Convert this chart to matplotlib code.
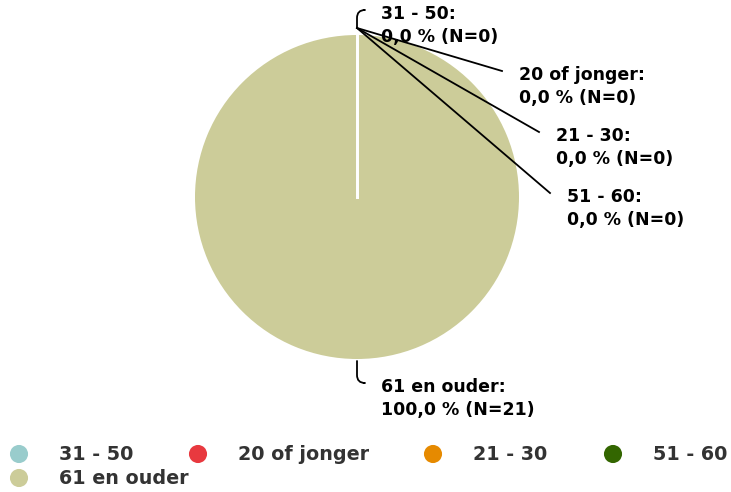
import numpy as np
import matplotlib.pyplot as plt
from matplotlib.patches import FancyArrowPatch

categories = ['31 - 50', '20 of jonger', '21 - 30', '51 - 60', '61 en ouder']
counts = [0, 0, 0, 0, 21]
colors = ['#99CCCC', '#E8393F', '#E68A00', '#336600', '#CCCC99']

# label layout in pixels from the top-left corner of the picture
label_pos = [(381, 13), (519, 74), (556, 135), (567, 196), (381, 386)]
label_bent = [True, False, False, False, True]
anchor_gap = [7, 7, 7, 7, 2]
legend_pos = [(19, 454), (198, 454), (433, 454), (613, 454), (19, 478)]

W, H = 731, 492
fig = plt.figure(figsize=(W / 100, H / 100), dpi=100)
ax = fig.add_axes([0, 0, 1, 1])

cx, cy, r = 357, H - 197, 162
wedges, _ = ax.pie(counts, colors=colors, startangle=90, counterclock=False,
                   center=(cx, cy), radius=r, frame=True,
                   wedgeprops=dict(edgecolor='none'))
ax.set_xlim(0, W)
ax.set_ylim(0, H)
ax.set_aspect('equal')
ax.axis('off')

total = sum(counts)
for w, cat, n, (lx, ly), bent, gap in zip(wedges, categories, counts, label_pos,
                                          label_bent, anchor_gap):
    ang = np.deg2rad((w.theta1 + w.theta2) / 2)
    if n == 0:
        # empty slices still leave their white border line
        ax.plot([cx, cx + r * np.cos(ang)], [cy, cy + r * np.sin(ang)],
                color='white', lw=2, zorder=3)
    ax_pt = (cx + (r + gap) * np.cos(ang), cy + (r + gap) * np.sin(ang))
    end = (lx - 17, H - ly + 3)
    pct = f"{n / total * 100:.1f}".replace('.', ',')
    if not bent:
        ax.plot([ax_pt[0], end[0]], [ax_pt[1], end[1]], color='black', lw=1.3, zorder=4)
    else:
        ax.add_patch(FancyArrowPatch(ax_pt, end, arrowstyle='-', color='black', lw=1.3,
                                     connectionstyle='angle,angleA=90,angleB=0,rad=8',
                                     shrinkA=0, shrinkB=0, zorder=4))
    ax.text(lx, H - ly + 8, f"{cat}:\n{pct} % (N={n})", ha='left', va='top',
            fontsize=12.5, fontweight='bold', color='black', linespacing=1.35, zorder=5)

for cat, col, (mx, my) in zip(categories, colors, legend_pos):
    ax.scatter([mx], [H - my], s=170, color=col, edgecolors='none')
    ax.text(mx + 40, H - my, cat, ha='left', va='center', fontsize=13.8,
            fontweight='bold', color='#333333')

fig.savefig('out.png', dpi=100)
